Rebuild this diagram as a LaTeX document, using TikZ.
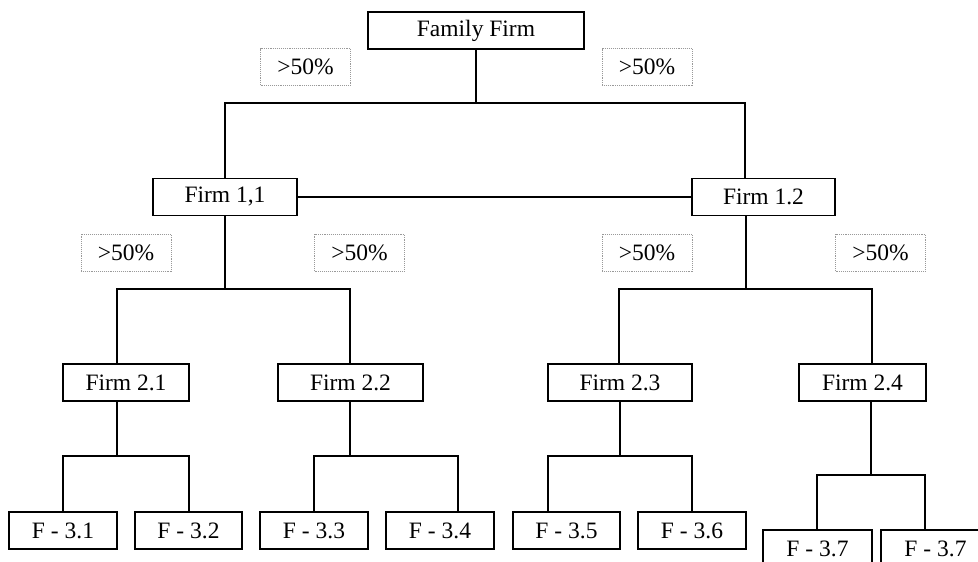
\documentclass[tikz,border=0pt]{standalone}
\usepackage{fontspec}
\setmainfont{Liberation Serif}
\begin{document}
\begin{tikzpicture}[x=1pt,y=-1pt,
  firmbox/.style={draw=black,line width=1.8pt,fill=white,inner sep=0pt,minimum height=37pt,font=\fontsize{23.5}{27}\selectfont},
  pctbox/.style={draw=gray!80,densely dotted,line width=0.9pt,inner sep=0pt,minimum width=90pt,minimum height=37pt,font=\fontsize{23.5}{27}\selectfont},
  link/.style={line width=1.7pt,draw=black}]
\useasboundingbox (0,0) rectangle (978,562);
\begin{scope}
\clip (0,0) rectangle (978,562);
% nodes
\node[firmbox,minimum width=216pt] (ff) at (476,30.5) {Family Firm};
\node[pctbox] (p1) at (305.5,67) {>50\%};
\node[pctbox] (p2) at (647,67) {>50\%};
\node[firmbox,minimum width=144pt] (f11) at (225,197) {Firm 1,1};
\node[firmbox,minimum width=143pt] (f12) at (763.5,197) {Firm 1.2};
\node[pctbox] (p3) at (126,252.5) {>50\%};
\node[pctbox] (p4) at (359.5,252.5) {>50\%};
\node[pctbox] (p5) at (647,252.5) {>50\%};
\node[pctbox] (p6) at (880.5,252.5) {>50\%};
\node[firmbox,minimum width=126pt] (f21) at (126,382.5) {Firm 2.1};
\node[firmbox,minimum width=145pt] (f22) at (350.5,382.5) {Firm 2.2};
\node[firmbox,minimum width=144pt] (f23) at (620,382.5) {Firm 2.3};
\node[firmbox,minimum width=127pt] (f24) at (862.5,382.5) {Firm 2.4};
\node[firmbox,minimum width=108pt] (b31) at (63,530.5) {F - 3.1};
\node[firmbox,minimum width=107pt] (b32) at (188.5,530.5) {F - 3.2};
\node[firmbox,minimum width=108pt] (b33) at (314,530.5) {F - 3.3};
\node[firmbox,minimum width=108pt] (b34) at (440,530.5) {F - 3.4};
\node[firmbox,minimum width=107pt] (b35) at (566.5,530.5) {F - 3.5};
\node[firmbox,minimum width=108pt] (b36) at (692,530.5) {F - 3.6};
\node[firmbox,minimum width=109pt] (b37a) at (817.5,548.5) {F - 3.7};
\node[firmbox,minimum width=109pt] (b37b) at (935.5,548.5) {F - 3.7};
% junction coordinates
\coordinate (j0) at (476,103);
\coordinate (j0l) at (225,103);
\coordinate (j0r) at (745,103);
\coordinate (j1) at (225,289);
\coordinate (j1l) at (117,289);
\coordinate (j1r) at (350,289);
\coordinate (j2) at (746,289);
\coordinate (j2l) at (619,289);
\coordinate (j2r) at (872,289);
\coordinate (k1) at (117,456);
\coordinate (k1l) at (63,456);
\coordinate (k1r) at (189,456);
\coordinate (k2) at (350,456);
\coordinate (k2l) at (314,456);
\coordinate (k2r) at (458,456);
\coordinate (k3) at (620,456);
\coordinate (k3l) at (548,456);
\coordinate (k3r) at (692,456);
\coordinate (k4) at (871,475);
\coordinate (k4l) at (817,475);
\coordinate (k4r) at (925,475);
% connectors
\draw[link] (ff.south -| j0) -- (j0);
\draw[link] (f11.north -| j0l) -- (j0l) -- (j0r) -- (f12.north -| j0r);
\draw[link] (f11.east) -- (f12.west);
\draw[link] (f11.south -| j1) -- (j1);
\draw[link] (f21.north -| j1l) -- (j1l) -- (j1r) -- (f22.north -| j1r);
\draw[link] (f12.south -| j2) -- (j2);
\draw[link] (f23.north -| j2l) -- (j2l) -- (j2r) -- (f24.north -| j2r);
\draw[link] (f21.south -| k1) -- (k1);
\draw[link] (b31.north -| k1l) -- (k1l) -- (k1r) -- (b32.north -| k1r);
\draw[link] (f22.south -| k2) -- (k2);
\draw[link] (b33.north -| k2l) -- (k2l) -- (k2r) -- (b34.north -| k2r);
\draw[link] (f23.south -| k3) -- (k3);
\draw[link] (b35.north -| k3l) -- (k3l) -- (k3r) -- (b36.north -| k3r);
\draw[link] (f24.south -| k4) -- (k4);
\draw[link] (b37a.north -| k4l) -- (k4l) -- (k4r) -- (b37b.north -| k4r);
\end{scope}
\end{tikzpicture}
\end{document}
